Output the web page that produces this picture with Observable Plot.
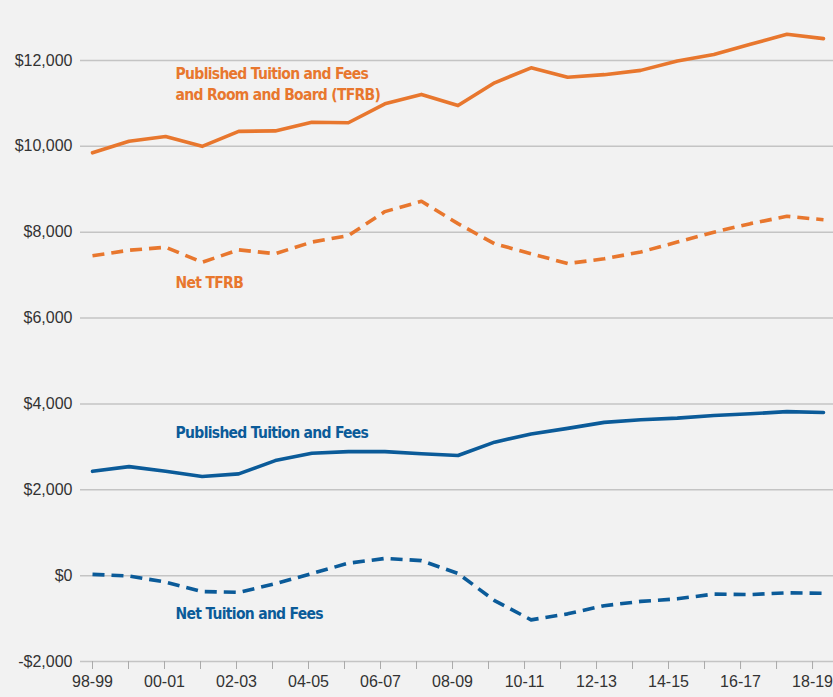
<!DOCTYPE html>
<html>
<head>
<meta charset="utf-8">
<script src="https://cdn.jsdelivr.net/npm/d3@7"></script>
<script src="https://cdn.jsdelivr.net/npm/@observablehq/plot@0.6"></script>
<style>
  html, body { margin: 0; padding: 0; background: #f2f2f2; }
  #chart svg { display: block; }
  .series-label text, .series-label { letter-spacing: -0.7px; }
</style>
</head>
<body>
<div id="chart"></div>
<script>
const years = ["98-99","99-00","00-01","01-02","02-03","03-04","04-05","05-06","06-07","07-08",
  "08-09","09-10","10-11","11-12","12-13","13-14","14-15","15-16","16-17","17-18","18-19"];

const publishedTFRB = [9850,10120,10230,10000,10350,10360,10560,10550,10990,11210,
  10950,11480,11830,11610,11670,11770,11990,12140,12380,12610,12510];
const netTFRB = [7450,7580,7650,7300,7590,7500,7770,7920,8480,8720,
  8200,7730,7500,7270,7380,7540,7770,8000,8200,8370,8290];
const publishedTF = [2430,2540,2430,2310,2370,2680,2850,2890,2890,2840,
  2800,3110,3300,3430,3570,3630,3670,3730,3770,3820,3800];
const netTF = [30,-10,-150,-370,-390,-190,50,290,400,350,
  50,-580,-1030,-890,-700,-600,-540,-430,-440,-400,-410];

const yTicks = [-2000,0,2000,4000,6000,8000,10000,12000];
const labelTexts = ["Published Tuition and Fees\nand Room and Board (TFRB)", "Net TFRB",
  "Published Tuition and Fees", "Net Tuition and Fees"];

// the original's category ticks are spaced slightly tighter than its data points
const tickRatio = 0.985;
const xTicks = years.map((_, i) => i * tickRatio);

const series = [
  {name: "Published TFRB", values: publishedTFRB, color: "#e8772e", dash: null},
  {name: "Net TFRB", values: netTFRB, color: "#e8772e", dash: "12,7"},
  {name: "Published TF", values: publishedTF, color: "#0b5b99", dash: null},
  {name: "Net TF", values: netTF, color: "#0b5b99", dash: "12,7"}
];

const labels = [
  {text: labelTexts[0], x: 2, y: 11480, color: "#e8772e"},
  {text: labelTexts[1], x: 2, y: 6850, color: "#e8772e"},
  {text: labelTexts[2], x: 2, y: 3350, color: "#0b5b99"},
  {text: labelTexts[3], x: 2, y: -850, color: "#0b5b99"}
];

const fmt = d => (d < 0 ? "-" : "") + "$" + d3.format(",")(Math.abs(d));

const lineMarks = series.map(s =>
  Plot.line(s.values.map((v, i) => ({i, value: v})), {
    x: "i", y: "value", stroke: s.color, strokeWidth: 3.6,
    strokeDasharray: s.dash, strokeLinejoin: "round", strokeLinecap: s.dash ? "butt" : "round"
  })
);

const chart = Plot.plot({
  width: 833,
  height: 697,
  marginLeft: 80,
  marginRight: 0,
  marginTop: 60,
  marginBottom: 36,
  style: {background: "#f2f2f2", fontFamily: "'Liberation Sans', Arial, sans-serif", fontSize: "16px", color: "#333"},
  x: {type: "linear", domain: [0, years.length - 1], insetLeft: 12, insetRight: 10, label: null},
  y: {domain: [-2000, 12000], range: [661, 60], label: null},
  marks: [
    Plot.ruleY(yTicks, {stroke: "#c4c4c4", strokeWidth: 1.5}),
    Plot.axisY({ticks: yTicks, tickFormat: fmt, tickSize: 0, tickPadding: 8, label: null, fill: "#333"}),
    Plot.axisX({ticks: xTicks, tickSize: 8, tickPadding: 6, stroke: "#aaa", label: null, fill: "#333",
      tickFormat: (d, i) => i % 2 === 0 ? years[i] : ""}),
    ...lineMarks,
    Plot.text(labels, {
      x: "x", y: "y", text: "text", fill: "color", dx: 10, textAnchor: "start",
      fontSize: 15.5, fontWeight: "bold", lineHeight: 1.33, className: "series-label",
      fontFamily: "'Liberation Sans Narrow', 'DejaVu Sans Condensed', sans-serif"
    })
  ]
});
document.getElementById("chart").appendChild(chart);
</script>
</body>
</html>
